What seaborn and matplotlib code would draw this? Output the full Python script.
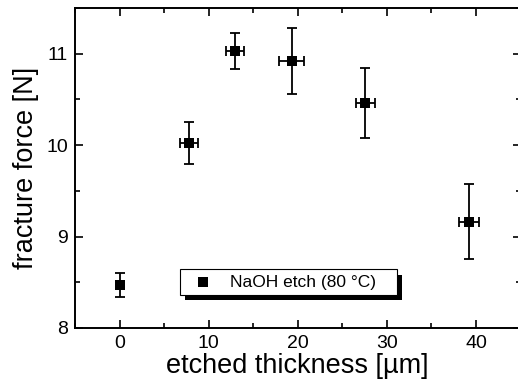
import numpy as np
import pandas as pd
import seaborn as sns
from matplotlib import pyplot as plt
from matplotlib import patheffects as pe
from matplotlib.ticker import MultipleLocator

thickness = [0.0, 7.8, 13.0, 19.3, 27.6, 39.2]
thickness_err = [0.0, 1.0, 1.0, 1.35, 1.1, 1.1]
force = [8.47, 10.02, 11.03, 10.92, 10.46, 9.16]
force_err = [0.13, 0.23, 0.20, 0.36, 0.38, 0.41]

df = pd.DataFrame({"thickness": thickness, "force": force})

sns.set_theme(style="ticks")
plt.rcParams["font.family"] = ["Liberation Sans", "DejaVu Sans"]

fig = plt.figure(figsize=(5.18, 3.9), dpi=100)
ax = fig.add_axes([75 / 518, 62 / 390, 445.5 / 518, 320 / 390])

ax.errorbar(thickness, force, xerr=thickness_err, yerr=force_err, fmt="none",
            ecolor="black", elinewidth=1.3, capsize=3.5, capthick=1.3, zorder=2)
sns.scatterplot(data=df, x="thickness", y="force", ax=ax, marker="s", s=45,
                color="black", edgecolor="black", linewidth=0,
                label="NaOH etch (80 °C)", zorder=3)

ax.set_xlim(-5, 45)
ax.set_ylim(8, 11.5)
ax.xaxis.set_major_locator(MultipleLocator(10))
ax.xaxis.set_minor_locator(MultipleLocator(5))
ax.yaxis.set_major_locator(MultipleLocator(1))
ax.yaxis.set_minor_locator(MultipleLocator(0.5))
ax.tick_params(which="both", direction="in", top=True, right=True,
               labelsize=14, width=1.2, color="black", labelcolor="black", pad=5)
ax.tick_params(which="major", length=6)
ax.tick_params(which="minor", length=3.5)
for s in ax.spines.values():
    s.set_linewidth(1.4)
    s.set_color("black")

ax.set_xlabel("etched thickness [µm]", fontsize=19.5, labelpad=1, color="black")
ax.set_ylabel("fracture force [N]", fontsize=19.5, labelpad=5, color="black")

leg = ax.legend(loc="lower left", bbox_to_anchor=(0.236, 0.103, 0.487, 0.08),
                mode="expand", borderaxespad=0,
                fontsize=12.5, frameon=True, fancybox=False, edgecolor="black",
                facecolor="white", framealpha=1,
                handlelength=2.0, handletextpad=0.55, borderpad=0.3,
                markerscale=1.0)
for t in leg.get_texts():
    t.set_color("black")
frame = leg.get_frame()
frame.set_linewidth(0.8)
frame.set_path_effects([pe.SimplePatchShadow(offset=(3.8, -3.8), shadow_rgbFace="black", alpha=1),
                        pe.Normal()])

fig.savefig("out.png", dpi=100)
